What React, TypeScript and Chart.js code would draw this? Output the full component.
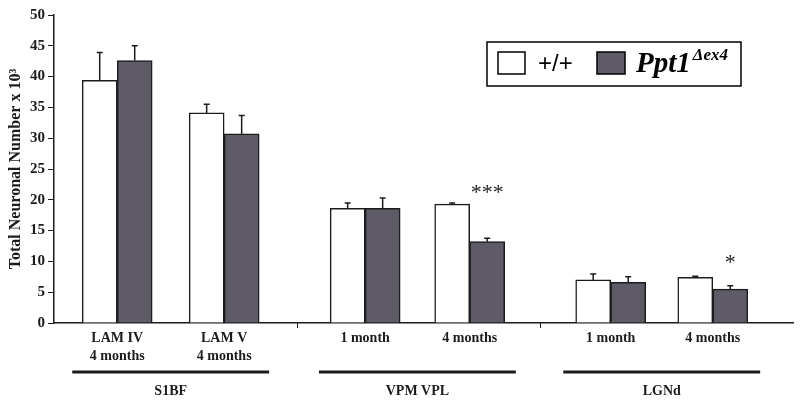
import React, { useEffect, useRef } from "react";
import { Chart, registerables } from "chart.js";

Chart.register(...registerables);

// ---- data ----
const categories: string[][] = [
  ["LAM IV", "4 months"],
  ["LAM V", "4 months"],
  ["1 month"],
  ["4 months"],
  ["1 month"],
  ["4 months"],
];
const categoryGroup = [0, 0, 1, 1, 2, 2];
const groups = ["S1BF", "VPM VPL", "LGNd"];
const wildType = [39.4, 34.1, 18.6, 19.3, 7.0, 7.4];
const wildTypeErr = [4.5, 1.4, 0.9, 0.2, 0.95, 0.2];
const mutant = [42.6, 30.7, 18.6, 13.2, 6.6, 5.5];
const mutantErr = [2.4, 3.0, 1.7, 0.55, 0.9, 0.55];
const significance = ["", "", "", "***", "", "*"];
const significanceAt = [0, 0, 0, 21.1, 0, 9.7];
const yMin = 0;
const yMax = 50;
const yStep = 5;
const legendLabels = ["+/+", "Ppt1", "\u0394ex4"];
const yTitle = "Total Neuronal Number x 10\u00B3";

// ---- layout constants (category centres on the linear x axis, one unit per group) ----
const positions = [0.26, 0.7, 1.28, 1.71, 2.29, 2.71];
const WHITE = "#ffffff";
const DARK = "#5e5b66";
const INK = "#1c1c1c";
const SERIF = "'Liberation Serif', 'Times New Roman', serif";

const overlayPlugin = {
  id: "overlay",
  afterDatasetsDraw(chart: any) {
    const ctx = chart.ctx as CanvasRenderingContext2D;
    const ys = chart.scales.y;
    const errs = [wildTypeErr, mutantErr];
    const vals = [wildType, mutant];
    ctx.save();
    ctx.strokeStyle = INK;
    ctx.lineWidth = 1.5;
    [0, 1].forEach((d) => {
      const meta = chart.getDatasetMeta(d);
      meta.data.forEach((el: any, i: number) => {
        const yTop = ys.getPixelForValue(vals[d][i]);
        const yErr = ys.getPixelForValue(vals[d][i] + errs[d][i]);
        ctx.beginPath();
        ctx.moveTo(el.x, yTop);
        ctx.lineTo(el.x, yErr);
        ctx.moveTo(el.x - 3, yErr);
        ctx.lineTo(el.x + 3, yErr);
        ctx.stroke();
      });
    });
    const metaM = chart.getDatasetMeta(1);
    ctx.fillStyle = INK;
    ctx.font = `22px ${SERIF}`;
    ctx.textAlign = "center";
    ctx.textBaseline = "middle";
    significance.forEach((s, i) => {
      if (!s) return;
      ctx.fillText(s, metaM.data[i].x, ys.getPixelForValue(significanceAt[i]));
    });
    ctx.restore();
  },
  afterDraw(chart: any) {
    const ctx = chart.ctx as CanvasRenderingContext2D;
    const xs = chart.scales.x;
    const bottom = chart.chartArea.bottom;
    ctx.save();
    ctx.strokeStyle = INK;
    ctx.lineWidth = 1;
    for (let g = 1; g < groups.length; g++) {
      const px = Math.round(xs.getPixelForValue(g)) + 0.5;
      ctx.beginPath();
      ctx.moveTo(px, bottom);
      ctx.lineTo(px, bottom + 5);
      ctx.stroke();
    }
    ctx.fillStyle = INK;
    ctx.font = `bold 14px ${SERIF}`;
    ctx.textAlign = "center";
    ctx.textBaseline = "middle";
    groups.forEach((name, g) => {
      const ps = positions.filter((_, i) => categoryGroup[i] === g);
      const c = ps.reduce((a, b) => a + b, 0) / ps.length;
      const x0 = xs.getPixelForValue(c - 0.405);
      const x1 = xs.getPixelForValue(c + 0.405);
      ctx.lineWidth = 3;
      ctx.beginPath();
      ctx.moveTo(x0, 372);
      ctx.lineTo(x1, 372);
      ctx.stroke();
      ctx.fillText(name, xs.getPixelForValue(c), 391);
    });
    // legend
    ctx.lineWidth = 1.5;
    ctx.strokeStyle = "#000";
    ctx.fillStyle = WHITE;
    ctx.fillRect(487, 42, 254, 44);
    ctx.strokeRect(487, 42, 254, 44);
    ctx.fillRect(498, 52, 27, 22);
    ctx.strokeRect(498, 52, 27, 22);
    ctx.fillStyle = DARK;
    ctx.fillRect(597, 52, 28, 22);
    ctx.strokeRect(597, 52, 28, 22);
    ctx.fillStyle = "#000";
    ctx.textAlign = "left";
    ctx.textBaseline = "alphabetic";
    ctx.font = `24px 'Liberation Sans', Arial, sans-serif`;
    ctx.fillText(legendLabels[0], 538, 71);
    ctx.font = `italic bold 29px ${SERIF}`;
    ctx.fillText(legendLabels[1], 636, 72);
    const w = ctx.measureText(legendLabels[1]).width;
    ctx.font = `italic bold 17px ${SERIF}`;
    ctx.fillText(legendLabels[2], 636 + w + 2, 60);
    ctx.restore();
  },
};

export default function App() {
  const ref = useRef<HTMLCanvasElement | null>(null);
  useEffect(() => {
    document.body.style.margin = "0";
    const canvas = ref.current;
    if (!canvas) return;
    const chart = new Chart(canvas, {
      type: "bar",
      data: {
        datasets: [
          {
            label: legendLabels[0],
            data: positions.map((x, i) => ({ x, y: wildType[i] })),
            backgroundColor: WHITE,
            borderColor: INK,
            borderWidth: 1.5,
            barThickness: 35,
          },
          {
            label: legendLabels[1] + legendLabels[2],
            data: positions.map((x, i) => ({ x, y: mutant[i] })),
            backgroundColor: DARK,
            borderColor: INK,
            borderWidth: 1.5,
            barThickness: 35,
          },
        ],
      },
      options: {
        animation: false,
        responsive: true,
        maintainAspectRatio: false,
        layout: { padding: { top: 15, right: 7, left: 0, bottom: 0 } },
        plugins: {
          legend: { display: false },
          tooltip: { enabled: false },
        },
        scales: {
          x: {
            type: "linear",
            min: 0,
            max: 3.04,
            offset: false,
            afterBuildTicks: (axis: any) => {
              axis.ticks = positions.map((v) => ({ value: v }));
            },
            afterFit: (axis: any) => {
              axis.height = 78;
            },
            ticks: {
              autoSkip: false,
              maxRotation: 0,
              padding: 1,
              color: INK,
              font: { family: SERIF, weight: "bold", size: 14, lineHeight: 1.25 },
              callback: (_v: any, i: number) => categories[i],
            },
            grid: {
              display: true,
              drawOnChartArea: false,
              tickLength: 6,
              color: "rgba(0,0,0,0)",
              tickColor: "rgba(0,0,0,0)",
            },
            border: { display: true, color: INK, width: 1.5 },
          },
          y: {
            min: yMin,
            max: yMax,
            afterFit: (axis: any) => {
              axis.width = 54;
            },
            ticks: {
              stepSize: yStep,
              padding: 3,
              color: INK,
              font: { family: SERIF, weight: "bold", size: 15 },
            },
            grid: {
              display: true,
              drawOnChartArea: false,
              tickLength: 6,
              tickColor: INK,
              tickWidth: 1,
            },
            border: { display: true, color: INK, width: 1.5 },
            title: {
              display: true,
              text: yTitle,
              color: INK,
              font: { family: SERIF, weight: "bold", size: 16 },
              padding: { top: 6, bottom: 0 },
            },
          },
        },
      },
      plugins: [overlayPlugin],
    });
    return () => chart.destroy();
  }, []);
  return (
    <div style={{ position: "fixed", left: 0, top: 0, width: 800, height: 401, background: "#fff" }}>
      <canvas ref={ref} />
    </div>
  );
}
